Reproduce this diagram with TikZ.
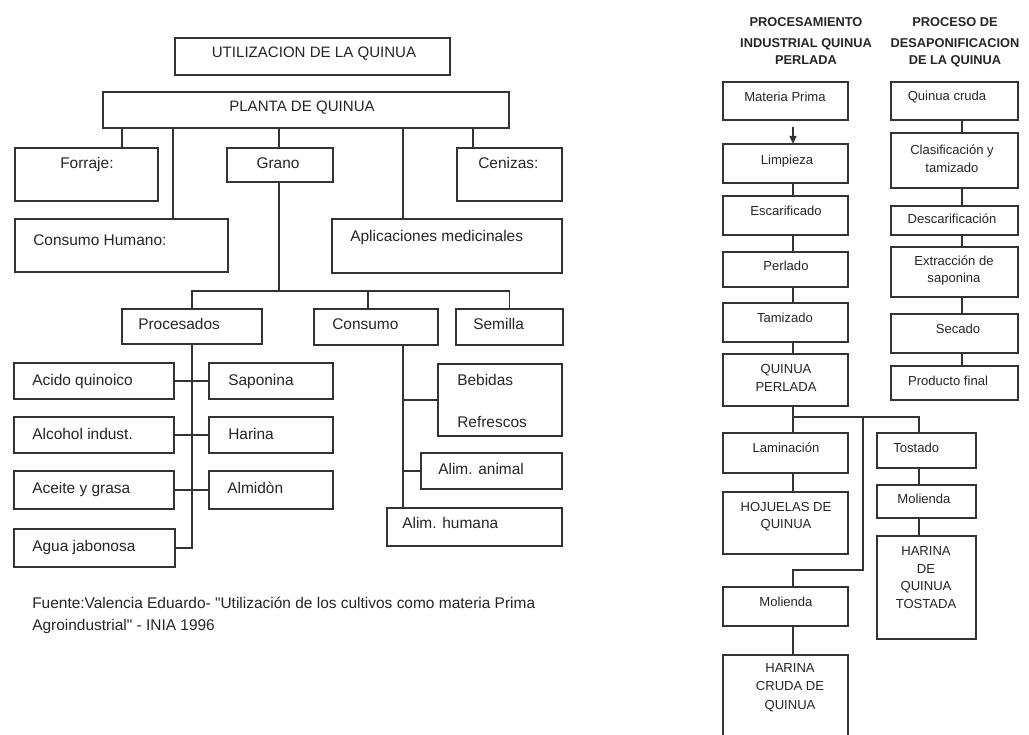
\documentclass[tikz,border=0pt]{standalone}
\usepackage{fontspec}
\setmainfont{Liberation Sans}
% same face without the TeX input mapping, so " stays a straight quote
\newfontfamily\plainsans{Liberation Sans}
\usetikzlibrary{arrows.meta}
\definecolor{ln}{HTML}{333333}
\definecolor{tx}{HTML}{262626}
\tikzset{
  box/.style={draw=ln, line width=1.3pt, inner sep=0pt, outer sep=0pt, anchor=north west},
  conn/.style={draw=ln, line width=1.3pt},
  lt/.style={inner sep=0pt, text=tx, font=\fontsize{11.6}{13}\selectfont},
  rt/.style={inner sep=0pt, text=tx, font=\fontsize{9.8}{12}\selectfont},
  hd/.style={inner sep=0pt, text=tx, font=\bfseries\fontsize{9.6}{12}\selectfont},
}
% box from top-left (x1,y1) to bottom-right (x2,y2), pixel units
\newcommand\pbox[5]{\node[box, minimum width={(#4-#2)*0.75pt}, minimum height={(#5-#3)*0.75pt}] (#1) at (#2,#3) {};}
\newcommand\dq{{\plainsans\symbol{34}}}
\begin{document}
\begin{tikzpicture}[x=0.75pt, y=-0.75pt]
\useasboundingbox (0,0) rectangle (1029,735);
\clip (0,0) rectangle (1029,735);
\fill[white] (0,0) rectangle (1029,735);

% ---------------- Utilizacion de la quinua ----------------
\pbox{titulo}{175}{38}{450}{75}
\node[lt, anchor=base, font=\fontsize{11.3}{13}\selectfont] (titulo-t) at (314,58) {UTILIZACION DE LA QUINUA};
\pbox{planta}{103}{92}{509}{128}
\node[lt, anchor=base, font=\fontsize{11.3}{13}\selectfont] (planta-t) at (302,112) {PLANTA DE QUINUA};

\pbox{forraje}{15}{148}{158}{201}
\node[lt, anchor=base west] (forraje-t) at (60,168) {Forraje:};
\pbox{grano}{227}{148}{333}{182}
\node[lt, anchor=base] (grano-t) at (278,168) {Grano};
\pbox{cenizas}{457}{148}{562}{201}
\node[lt, anchor=base west] (cenizas-t) at (478,168) {Cenizas:};
\pbox{chumano}{15}{219}{228}{272}
\node[lt, anchor=base west] (chumano-t) at (33,245) {Consumo Humano:};
\pbox{aplic}{332}{219}{562}{273}
\node[lt, anchor=base west] (aplic-t) at (350,241) {Aplicaciones medicinales};

\coordinate (xF) at (122,0);
\coordinate (xC) at (173,0);
\coordinate (xG) at (279,0);
\coordinate (xA) at (403,0);
\coordinate (xZ) at (473,0);
\draw[conn] (planta.south -| xF) -- (forraje.north -| xF);
\draw[conn] (planta.south -| xC) -- (chumano.north -| xC);
\draw[conn] (planta.south -| xG) -- (grano.north -| xG);
\draw[conn] (planta.south -| xA) -- (aplic.north -| xA);
\draw[conn] (planta.south -| xZ) -- (cenizas.north -| xZ);

\pbox{proc}{122}{309}{262}{344}
\node[lt, anchor=base west] (proc-t) at (138,329) {Procesados};
\pbox{consumo}{314}{309}{438}{345}
\node[lt, anchor=base west] (consumo-t) at (332,329) {Consumo};
\pbox{semilla}{456}{309}{563}{345}
\node[lt, anchor=base west] (semilla-t) at (473,329) {Semilla};

\coordinate (jG) at (279,291);
\coordinate (xS) at (368,0);
\draw[conn] (grano.south -| jG) -- (jG);
\draw[conn] (proc.north) -- (proc.north |- jG) -- (semilla.north |- jG) -- (semilla.north);
\draw[conn] (consumo.north -| xS) -- (jG -| xS);

\pbox{acido}{14}{363}{174}{399}
\node[lt, anchor=base west] (acido-t) at (32,385) {Acido quinoico};
\pbox{saponina}{209}{363}{333}{399}
\node[lt, anchor=base west] (saponina-t) at (228,385) {Saponina};
\pbox{alcohol}{14}{417}{174}{453}
\node[lt, anchor=base west] (alcohol-t) at (32,439) {Alcohol indust.};
\pbox{harina}{209}{417}{333}{453}
\node[lt, anchor=base west] (harina-t) at (228,439) {Harina};
\pbox{aceite}{14}{471}{174}{509}
\node[lt, anchor=base west] (aceite-t) at (32,493) {Aceite y grasa};
\pbox{almidon}{209}{471}{333}{509}
\node[lt, anchor=base west] (almidon-t) at (227,493) {Almidòn};
\pbox{agua}{14}{529}{175}{567}
\node[lt, anchor=base west] (agua-t) at (32,551) {Agua jabonosa};

\coordinate (jP) at (192,548);
\draw[conn] (proc.south) -- (jP) -- (agua.east |- jP);
\draw[conn] (acido.east) -- (saponina.west);
\draw[conn] (alcohol.east) -- (harina.west);
\draw[conn] (aceite.east) -- (almidon.west);

\pbox{bebidas}{438}{364}{562}{436}
\node[lt, anchor=base west] (bebidas-t) at (457,385) {Bebidas};
\node[lt, anchor=base west] (refrescos-t) at (457,427) {Refrescos};
\pbox{animal}{421}{453}{562}{489}
\node[lt, anchor=base west] (animal-t) at (438,474) {Alim. animal};
\pbox{humana}{387}{508}{562}{546}
\node[lt, anchor=base west] (humana-t) at (402,528) {Alim. humana};

\coordinate (xK) at (403,0);
\draw[conn] (consumo.south -| xK) -- (humana.north -| xK);
\draw[conn] (bebidas.west) -- (bebidas.west -| xK);
\draw[conn] (animal.west) -- (animal.west -| xK);

\node[lt, anchor=base west] (fuente) at (32,608) {Fuente:Valencia Eduardo- \dq Utilización de los cultivos como materia Prima};
\node[lt, anchor=base west] (fuente2) at (32,630) {Agroindustrial\dq\ - INIA 1996};

% ---------------- Procesamiento industrial quinua perlada ----------------
\node[hd, anchor=base] (h1a) at (806,27) {PROCESAMIENTO};
\node[hd, anchor=base] (h1b) at (806,48) {INDUSTRIAL QUINUA};
\node[hd, anchor=base] (h1c) at (806,65) {PERLADA};
\node[hd, anchor=base] (h2a) at (955,27) {PROCESO DE};
\node[hd, anchor=base] (h2b) at (955,48) {DESAPONIFICACION};
\node[hd, anchor=base] (h2c) at (955,65) {DE LA QUINUA};

\pbox{materia}{723}{82}{848}{120}
\node[rt, anchor=base] (materia-t) at (785,102) {Materia Prima};
\pbox{limpieza}{723}{144}{848}{183}
\node[rt, anchor=base] (limpieza-t) at (787,164) {Limpieza};
\pbox{escar}{723}{196}{848}{235}
\node[rt, anchor=base] (escar-t) at (786,215) {Escarificado};
\pbox{perlado}{723}{252}{848}{287}
\node[rt, anchor=base] (perlado-t) at (786,270) {Perlado};
\pbox{tamiz}{723}{303}{848}{342}
\node[rt, anchor=base] (tamiz-t) at (785,322) {Tamizado};
\pbox{qperlada}{723}{354}{848}{406}
\node[rt, anchor=base] (qperlada-t) at (786,373) {QUINUA};
\node[rt, anchor=base] (qperlada-t2) at (786,391) {PERLADA};
\pbox{lamin}{723}{433}{848}{473}
\node[rt, anchor=base] (lamin-t) at (786,452) {Laminación};
\pbox{hojuelas}{723}{492}{848}{554}
\node[rt, anchor=base] (hojuelas-t) at (786,511) {HOJUELAS DE};
\node[rt, anchor=base] (hojuelas-t2) at (786,528) {QUINUA};
\pbox{molienda}{723}{587}{848}{626}
\node[rt, anchor=base] (molienda-t) at (786,606) {Molienda};
\pbox{hcruda}{723}{655}{848}{760}
\node[rt, anchor=base] (hcruda-t) at (790,672) {HARINA};
\node[rt, anchor=base] (hcruda-t2) at (790,690) {CRUDA DE};
\node[rt, anchor=base] (hcruda-t3) at (790,709) {QUINUA};

\pbox{tostado}{877}{433}{976}{468}
\node[rt, anchor=base west] (tostado-t) at (893,452) {Tostado};
\pbox{molienda2}{877}{485}{976}{518}
\node[rt, anchor=base] (molienda2-t) at (924,503) {Molienda};
\pbox{htostada}{877}{536}{976}{639}
\node[rt, anchor=base] (htostada-t) at (926,555) {HARINA};
\node[rt, anchor=base] (htostada-t2) at (926,573) {DE};
\node[rt, anchor=base] (htostada-t3) at (926,590) {QUINUA};
\node[rt, anchor=base] (htostada-t4) at (926,608) {TOSTADA};

\coordinate (xL) at (793,0);
\coordinate (xT) at (919,0);
\coordinate (xB) at (863,0);
\coordinate (jQ) at (793,417);
\coordinate (jM) at (793,570);
\draw[conn, -{Triangle[length=6pt,width=5pt]}] (materia.south -| xL) ++(0,7) -- (limpieza.north -| xL);
\draw[conn] (limpieza.south -| xL) -- (escar.north -| xL);
\draw[conn] (escar.south -| xL) -- (perlado.north -| xL);
\draw[conn] (perlado.south -| xL) -- (tamiz.north -| xL);
\draw[conn] (tamiz.south -| xL) -- (qperlada.north -| xL);
\draw[conn] (qperlada.south -| xL) -- (lamin.north -| xL);
\draw[conn] (jQ) -- (jQ -| xT) -- (tostado.north -| xT);
\draw[conn] (jQ -| xB) -- (jM -| xB) -- (jM) -- (molienda.north -| xL);
\draw[conn] (lamin.south -| xL) -- (hojuelas.north -| xL);
\draw[conn] (molienda.south -| xL) -- (hcruda.north -| xL);
\draw[conn] (tostado.south -| xT) -- (molienda2.north -| xT);
\draw[conn] (molienda2.south -| xT) -- (htostada.north -| xT);

% ---------------- Proceso de desaponificacion ----------------
\pbox{cruda}{891}{82}{1018}{120}
\node[rt, anchor=base] (cruda-t) at (947,101) {Quinua cruda};
\pbox{clasif}{891}{133}{1018}{188}
\node[rt, anchor=base] (clasif-t) at (952,155) {Clasificación y};
\node[rt, anchor=base] (clasif-t2) at (952,172) {tamizado};
\pbox{descar}{891}{206}{1018}{235}
\node[rt, anchor=base] (descar-t) at (952,223) {Descarificación};
\pbox{extrac}{891}{247}{1018}{297}
\node[rt, anchor=base] (extrac-t) at (954,265) {Extracción de};
\node[rt, anchor=base] (extrac-t2) at (954,282) {saponina};
\pbox{secado}{891}{314}{1018}{353}
\node[rt, anchor=base] (secado-t) at (958,333) {Secado};
\pbox{final}{891}{366}{1018}{400}
\node[rt, anchor=base] (final-t) at (948,385) {Producto final};

\coordinate (xR) at (962,0);
\draw[conn] (cruda.south -| xR) -- (clasif.north -| xR);
\draw[conn] (clasif.south -| xR) -- (descar.north -| xR);
\draw[conn] (descar.south -| xR) -- (extrac.north -| xR);
\draw[conn] (extrac.south -| xR) -- (secado.north -| xR);
\draw[conn] (secado.south -| xR) -- (final.north -| xR);
\end{tikzpicture}
\end{document}
